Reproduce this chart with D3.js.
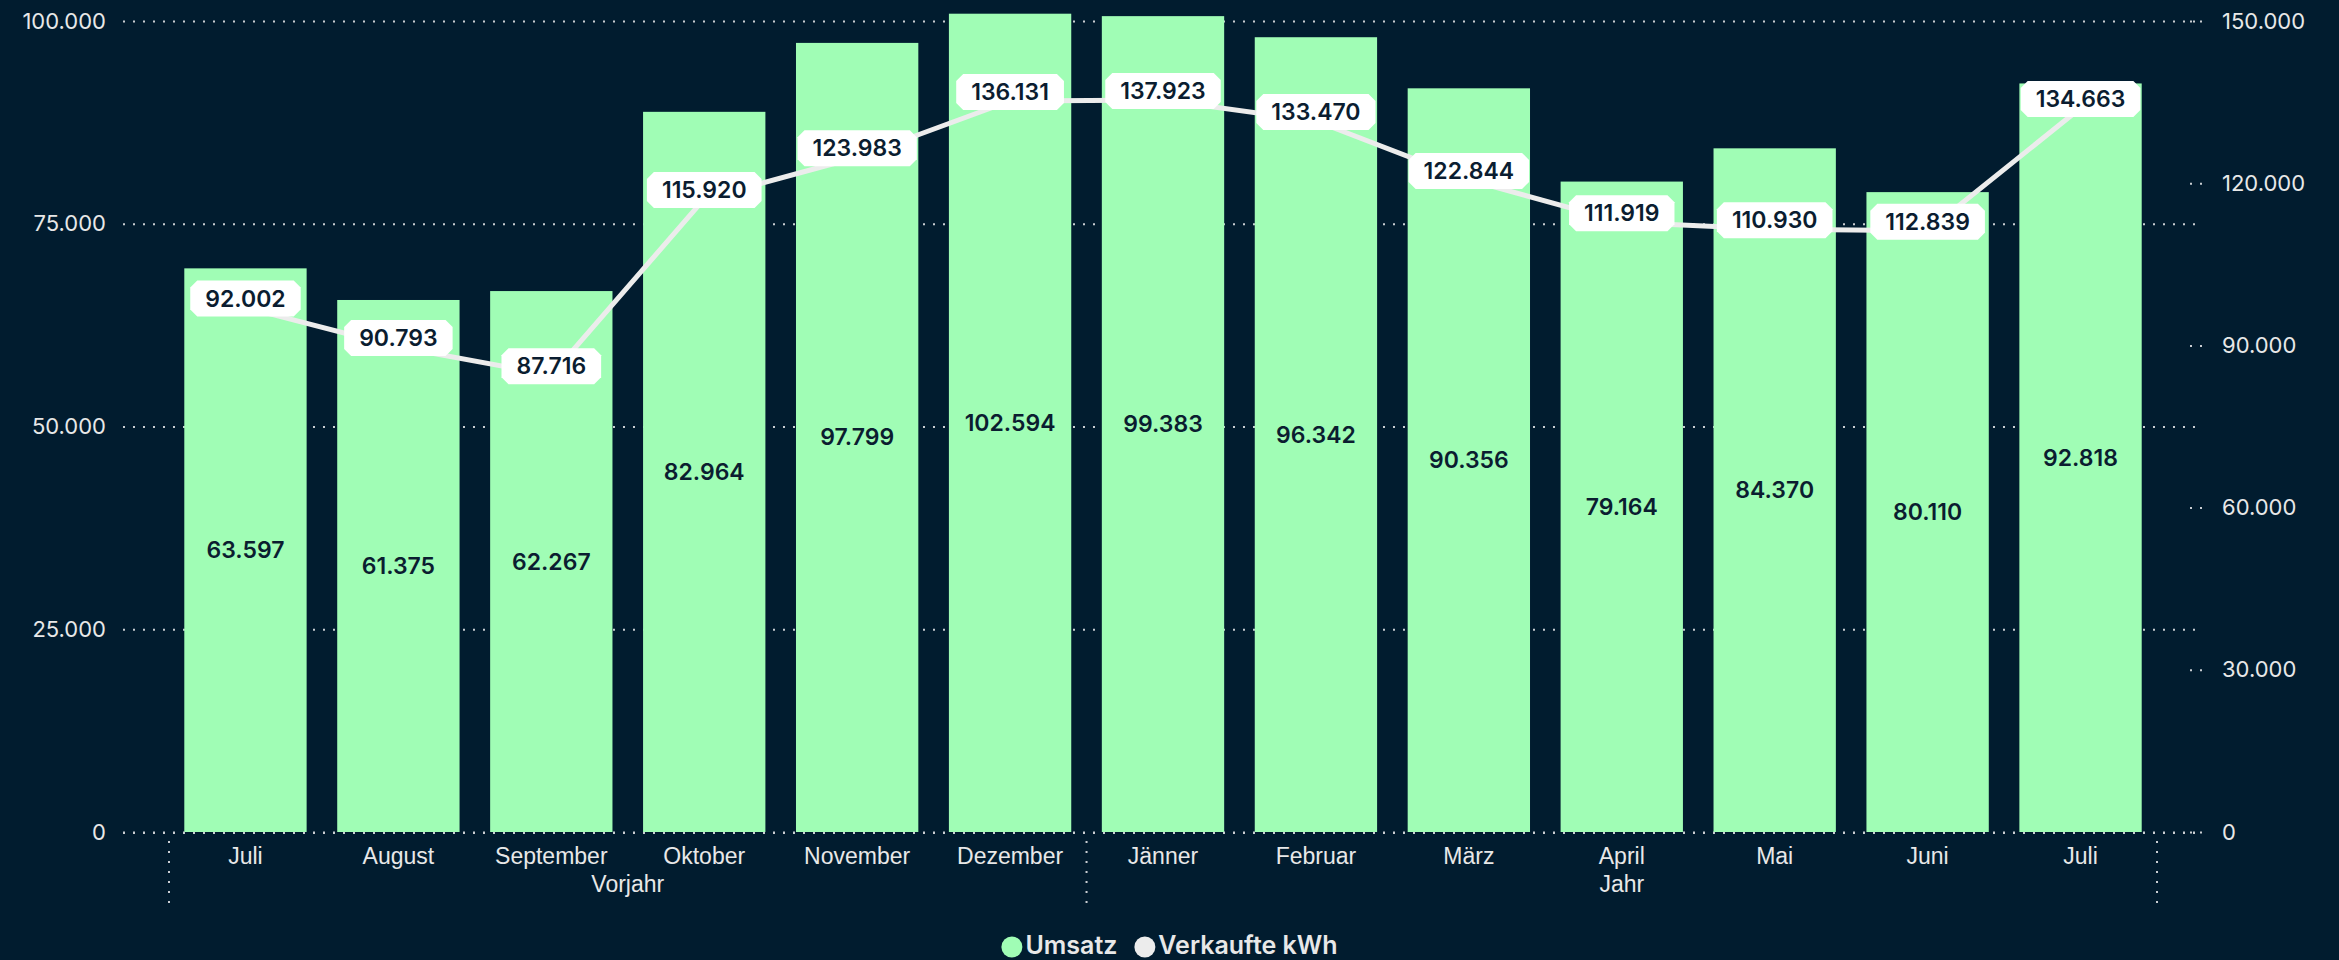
<!DOCTYPE html>
<html>
<head>
<meta charset="utf-8">
<script src="https://cdn.jsdelivr.net/npm/d3@7"></script>
<style>
html,body{margin:0;padding:0;background:#011c2f;}
svg{display:block;}
</style>
</head>
<body>
<svg id="chart" width="2339" height="960"></svg>
<script>
// categories
const months = ["Juli","August","September","Oktober","November","Dezember","Jänner","Februar","März","April","Mai","Juni","Juli"];
const groups = [
    {name:"Vorjahr", from:0, to:5},
    {name:"Jahr", from:6, to:12}
];

// bar heights as drawn in the picture, and the numbers printed on them
const umsatz = [69500, 65600, 66700, 88800, 97300, 100900, 100600, 98000, 91700, 80200, 84300, 78900, 92300];
const umsatzLabels = ["63.597","61.375","62.267","82.964","97.799","102.594","99.383","96.342","90.356","79.164","84.370","80.110","92.818"];

// line points as drawn, and the printed values
const kwh = [97000, 89700, 84500, 117100, 124800, 135200, 135400, 131500, 120600, 112800, 111500, 111200, 133900];
const kwhLabels = ["92.002","90.793","87.716","115.920","123.983","136.131","137.923","133.470","122.844","111.919","110.930","112.839","134.663"];

const leftTicks = [0, 25000, 50000, 75000, 100000];
const rightTicks = [0, 30000, 60000, 90000, 120000, 150000];
const legendItems = ["Umsatz", "Verkaufte kWh"];

const GREEN = "#a0fdb5", LINE = "#ececec", TEXT = "#e8e8e8", DARK = "#0b1d30";

const de = d3.formatLocale({decimal:",", thousands:".", grouping:[3], currency:["","€"]});
const fmt = de.format(",");

const svg = d3.select("#chart");

const x = d3.scaleBand()
    .domain(d3.range(months.length))
    .range([169, 2157])
    .paddingInner(0.2)
    .paddingOuter(0.1);
const bw = x.bandwidth();
const gap = (x.step() - bw) / 2;

const yL = d3.scaleLinear().domain([0, 100000]).range([832, 21]);
const yR = d3.scaleLinear().domain([0, 150000]).range([832, 21]);

// left axis with dotted grid
const gl = svg.append("g")
    .attr("transform", "translate(123,0)")
    .call(d3.axisLeft(yL).tickValues(leftTicks).tickFormat(fmt).tickSize(-2074).tickPadding(17));
gl.select(".domain").remove();
gl.selectAll(".tick line")
    .attr("stroke", "#c9cdd2")
    .attr("stroke-width", 2)
    .attr("stroke-dasharray", "2 8");
gl.selectAll(".tick text")
    .attr("fill", TEXT)
    .style("font-family", "Inter")
    .style("font-size", "22px");

// right axis
const gr = svg.append("g")
    .attr("transform", "translate(2190,0)")
    .call(d3.axisRight(yR).tickValues(rightTicks).tickFormat(fmt).tickSize(12).tickPadding(20));
gr.select(".domain").remove();
gr.selectAll(".tick line")
    .attr("stroke", "#c9cdd2")
    .attr("stroke-width", 2)
    .attr("stroke-dasharray", "2 8");
gr.selectAll(".tick text")
    .attr("fill", TEXT)
    .style("font-family", "Inter")
    .style("font-size", "22px");

// bars
svg.append("g").selectAll("rect")
    .data(umsatz)
    .join("rect")
    .attr("x", (d, i) => x(i))
    .attr("y", d => yL(d))
    .attr("width", bw)
    .attr("height", d => yL(0) - yL(d))
    .attr("fill", GREEN);

svg.append("g").selectAll("text")
    .data(umsatz)
    .join("text")
    .attr("x", (d, i) => x(i) + bw / 2)
    .attr("y", d => (yL(d) + yL(0)) / 2)
    .attr("text-anchor", "middle")
    .attr("dominant-baseline", "central")
    .attr("fill", DARK)
    .style("font-family", "Inter")
    .style("font-weight", 600)
    .style("font-size", "23px")
    .text((d, i) => umsatzLabels[i]);

// zero line
svg.append("line")
    .attr("x1", 123).attr("x2", 2202)
    .attr("y1", yL(0) + 1).attr("y2", yL(0) + 1)
    .attr("stroke", "#c9cdd2")
    .attr("stroke-width", 2)
    .attr("stroke-dasharray", "2 8");

// x labels
svg.append("g").selectAll("text")
    .data(months)
    .join("text")
    .attr("x", (d, i) => x(i) + bw / 2)
    .attr("y", 864)
    .attr("text-anchor", "middle")
    .attr("fill", TEXT)
    .style("font-family", "Liberation Sans")
    .style("font-size", "23px")
    .text(d => d);

// group separators + group labels
const bounds = [x(0) - gap].concat(groups.map(g => x(g.to) + bw + gap));
svg.append("g").selectAll("line")
    .data(bounds)
    .join("line")
    .attr("x1", d => d).attr("x2", d => d)
    .attr("y1", 841).attr("y2", 905)
    .attr("stroke", "#c9cdd2")
    .attr("stroke-width", 2)
    .attr("stroke-dasharray", "2 8");

svg.append("g").selectAll("text")
    .data(groups)
    .join("text")
    .attr("x", g => (x(g.from) - gap + x(g.to) + bw + gap) / 2)
    .attr("y", 892)
    .attr("text-anchor", "middle")
    .attr("fill", TEXT)
    .style("font-family", "Liberation Sans")
    .style("font-size", "23px")
    .text(g => g.name);

// line
const line = d3.line()
    .x((d, i) => x(i) + bw / 2)
    .y(d => yR(d));
svg.append("path")
    .datum(kwh)
    .attr("d", line)
    .attr("fill", "none")
    .attr("stroke", LINE)
    .attr("stroke-width", 5)
    .attr("stroke-linejoin", "round");

// line labels in chamfered boxes
const lbl = svg.append("g").selectAll("g")
    .data(kwh)
    .join("g")
    .attr("transform", (d, i) => `translate(${x(i) + bw / 2},${yR(d) - 9})`);
lbl.append("path").attr("class", "box");
lbl.append("text")
    .attr("text-anchor", "middle")
    .attr("dominant-baseline", "central")
    .attr("fill", DARK)
    .style("font-family", "Inter")
    .style("font-weight", 600)
    .style("font-size", "23px")
    .text((d, i) => kwhLabels[i]);
lbl.each(function(){
    const g = d3.select(this);
    const tw = g.select("text").node().getComputedTextLength();
    const w = tw + 30, h = 36, c = 7;
    const l = -w / 2, r = w / 2, t = -h / 2, b = h / 2;
    g.select("path.box")
        .attr("d", `M${l+c},${t}H${r-c}L${r},${t+c}V${b-c}L${r-c},${b}H${l+c}L${l},${b-c}V${t+c}Z`)
        .attr("fill", "#ffffff");
});

// legend
const legend = svg.append("g");
const items = legend.selectAll("g")
    .data(legendItems)
    .join("g");
items.append("circle")
    .attr("r", 10.5)
    .attr("cx", 10.5)
    .attr("cy", 947)
    .attr("fill", (d, i) => i === 0 ? GREEN : LINE);
items.append("text")
    .attr("x", 24)
    .attr("y", 954)
    .attr("fill", TEXT)
    .style("font-family", "Inter")
    .style("font-weight", 600)
    .style("font-size", "25px")
    .text(d => d);
let off = 0;
items.each(function(){
    const t = d3.select(this).select("text").node().getComputedTextLength();
    d3.select(this).attr("transform", `translate(${off},0)`);
    off += 24 + t + 17;
});
legend.attr("transform", `translate(${(2339 - (off - 17)) / 2},0)`);
</script>
</body>
</html>
